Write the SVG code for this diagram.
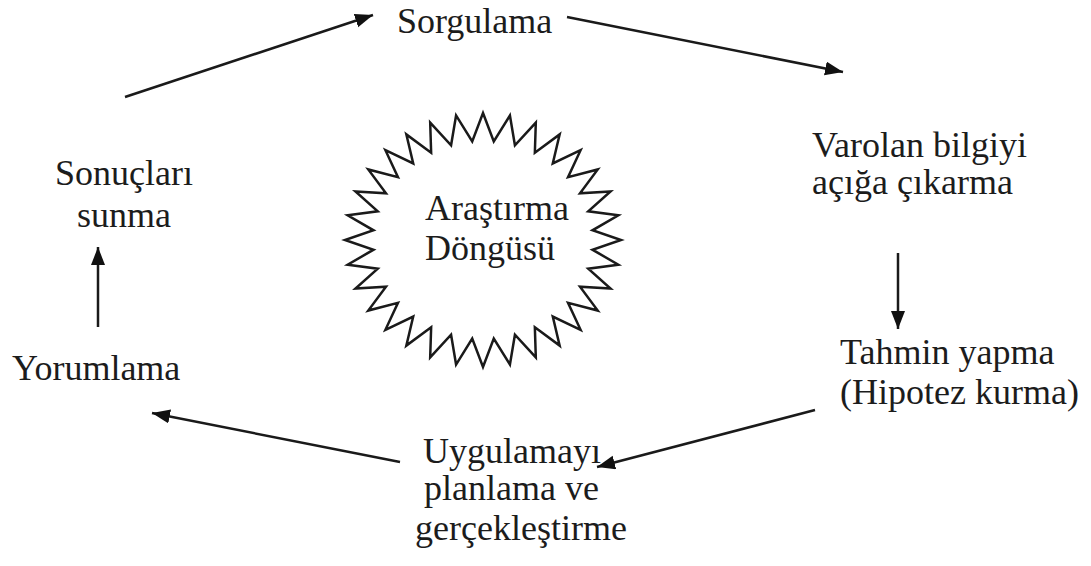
<svg xmlns="http://www.w3.org/2000/svg" width="1091" height="566" viewBox="0 0 1091 566">
<style>
.t{font-family:"Liberation Serif","Times New Roman",serif;font-size:36px;fill:#1c1c1c}
.c{stroke:#1a1a1a;stroke-width:2.5;fill:none}
</style>
<defs>
<marker id="ah" markerUnits="userSpaceOnUse" markerWidth="20" markerHeight="16" refX="18" refY="7" orient="auto">
<path d="M0,0 L18,7 L0,14 z" fill="#111"/>
</marker>
</defs>
<rect width="1091" height="566" fill="#fff"/>
<g id="connectors">
<line class="c" x1="125" y1="97" x2="373" y2="15" marker-end="url(#ah)"/>
<line class="c" x1="567" y1="17" x2="843" y2="72" marker-end="url(#ah)"/>
<line class="c" x1="898" y1="253" x2="898" y2="329" marker-end="url(#ah)"/>
<line class="c" x1="815" y1="410" x2="597" y2="467" marker-end="url(#ah)"/>
<line class="c" x1="400" y1="462" x2="152" y2="413" marker-end="url(#ah)"/>
<line class="c" x1="98" y1="327" x2="98" y2="247" marker-end="url(#ah)"/>
</g>
<g id="center">
<polygon fill="#fff" stroke="#1a1a1a" stroke-width="2.5" stroke-linejoin="miter" points="483,113 493.78,141.48 509.92,115.44 514.93,145.26 535.81,122.67 534.85,152.69 559.67,134.40 552.78,163.47 580.58,150.20 568.03,177.20 597.74,169.44 580.01,193.33 610.50,191.40 588.26,211.26 618.35,215.22 592.47,230.30 621,240 592.47,249.70 618.35,264.78 588.26,268.74 610.50,288.60 580.01,286.67 597.74,310.56 568.03,302.80 580.58,329.80 552.78,316.53 559.67,345.60 534.85,327.31 535.81,357.33 514.93,334.74 509.92,364.56 493.78,338.52 483,367 472.22,338.52 456.08,364.56 451.07,334.74 430.19,357.33 431.15,327.31 406.33,345.60 413.22,316.53 385.42,329.80 397.97,302.80 368.26,310.56 385.99,286.67 355.50,288.60 377.74,268.74 347.65,264.78 373.53,249.70 345,240 373.53,230.30 347.65,215.22 377.74,211.26 355.50,191.40 385.99,193.33 368.26,169.44 397.97,177.20 385.42,150.20 413.22,163.47 406.33,134.40 431.15,152.69 430.19,122.67 451.07,145.26 456.08,115.44 472.22,141.48"/>
<text class="t" x="425" y="220">Araştırma</text>
<text class="t" x="425" y="260">Döngüsü</text>
</g>
<g id="sorgulama"><text class="t" x="397" y="33">Sorgulama</text></g>
<g id="varolan"><text class="t" x="812" y="157">Varolan bilgiyi</text><text class="t" x="812" y="194">açığa çıkarma</text></g>
<g id="tahmin"><text class="t" x="840" y="364">Tahmin yapma</text><text class="t" x="840" y="404">(Hipotez kurma)</text></g>
<g id="uygulama"><text class="t" x="423" y="463">Uygulamayı</text><text class="t" x="424" y="500">planlama ve</text><text class="t" x="415" y="540">gerçekleştirme</text></g>
<g id="yorumlama"><text class="t" x="12" y="380">Yorumlama</text></g>
<g id="sonuclari"><text class="t" x="124" y="185" text-anchor="middle">Sonuçları</text><text class="t" x="124" y="227" text-anchor="middle">sunma</text></g>
</svg>
